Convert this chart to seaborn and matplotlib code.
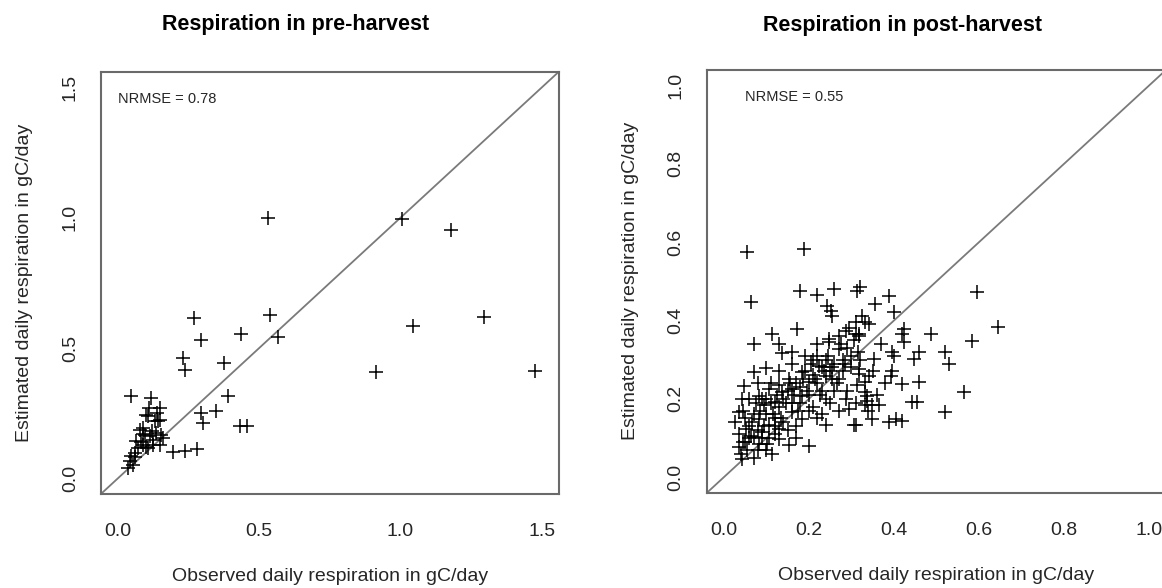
import numpy as np
import pandas as pd
import matplotlib
matplotlib.use('Agg')
import matplotlib.pyplot as plt
import seaborn as sns

# Pre-harvest: observed vs estimated (gC/day)
pre_obs = [0.53, 1.005, 1.18, 1.045, 1.295, 0.913, 1.475, 0.27, 0.537, 0.435,
           0.567, 0.293, 0.231, 0.236, 0.375, 0.047, 0.118, 0.15, 0.39, 0.295,
           0.348, 0.30, 0.431, 0.455, 0.195, 0.236, 0.28, 0.106, 0.148, 0.077,
           0.095, 0.112, 0.136, 0.154, 0.16, 0.124, 0.107, 0.089, 0.071, 0.059,
           0.047, 0.041, 0.035, 0.053, 0.142, 0.089, 0.125, 0.065, 0.148, 0.10,
           0.06, 0.08, 0.10, 0.12, 0.13, 0.11, 0.14, 0.09]
pre_est = [1.00, 0.996, 0.953, 0.585, 0.62, 0.406, 0.41, 0.614, 0.627, 0.553,
           0.544, 0.529, 0.461, 0.416, 0.444, 0.314, 0.308, 0.27, 0.314, 0.25,
           0.257, 0.212, 0.199, 0.199, 0.10, 0.106, 0.112, 0.238, 0.225, 0.186,
           0.167, 0.161, 0.174, 0.167, 0.154, 0.129, 0.116, 0.129, 0.116, 0.097,
           0.084, 0.065, 0.039, 0.052, 0.218, 0.193, 0.148, 0.142, 0.129, 0.244,
           0.08, 0.14, 0.12, 0.18, 0.22, 0.27, 0.25, 0.17]

# Post-harvest: observed vs estimated (gC/day)
post_obs = [0.055, 0.188, 0.063, 0.18, 0.22, 0.259, 0.314, 0.321, 0.355, 0.388,
            0.243, 0.251, 0.255, 0.112, 0.172, 0.071, 0.325, 0.31, 0.341, 0.286,
            0.318, 0.247,
            0.596, 0.645, 0.584, 0.488, 0.52, 0.529, 0.565, 0.521, 0.459, 0.447,
            0.459, 0.443, 0.455, 0.42, 0.424, 0.42, 0.424, 0.40, 0.396, 0.40,
            0.353, 0.396, 0.392, 0.318, 0.341, 0.333, 0.337, 0.349, 0.365, 0.388,
            0.42, 0.404, 0.349, 0.31, 0.314, 0.31, 0.333,
            0.136, 0.071, 0.10, 0.047, 0.043, 0.082, 0.094, 0.027, 0.035, 0.051,
            0.063, 0.082, 0.102, 0.114, 0.043, 0.035, 0.071, 0.129, 0.153, 0.20,
            0.161, 0.184, 0.137, 0.161, 0.121, 0.184, 0.20, 0.224, 0.22, 0.239,
            0.255, 0.247, 0.271, 0.286, 0.294, 0.306, 0.239, 0.231, 0.184, 0.153,
            0.129, 0.106, 0.082, 0.106, 0.129, 0.09, 0.318, 0.318, 0.333, 0.337,
            0.333,
            0.04, 0.05, 0.06, 0.07, 0.08, 0.09, 0.10, 0.11, 0.12, 0.13,
            0.14, 0.15, 0.16, 0.17, 0.18, 0.19, 0.20, 0.21, 0.22, 0.23,
            0.24, 0.25, 0.26, 0.27, 0.28, 0.29, 0.30, 0.26, 0.21, 0.17,
            0.12, 0.08, 0.06, 0.05, 0.09, 0.11, 0.13, 0.16, 0.19, 0.22,
            0.27, 0.30, 0.24, 0.14, 0.10, 0.07, 0.18, 0.23, 0.28, 0.32,
            0.035, 0.045, 0.055, 0.065, 0.075, 0.085, 0.095, 0.105, 0.115, 0.125,
            0.135, 0.145, 0.155, 0.165, 0.175, 0.185, 0.195, 0.205, 0.215, 0.225,
            0.235, 0.245, 0.255, 0.265, 0.275, 0.285, 0.295, 0.305, 0.315, 0.20,
            0.22, 0.25, 0.27, 0.29, 0.31, 0.34, 0.36, 0.38, 0.35, 0.37,
            0.06, 0.08, 0.10, 0.12, 0.15, 0.17, 0.045, 0.13, 0.16, 0.21]
post_est = [0.574, 0.582, 0.446, 0.476, 0.465, 0.48, 0.476, 0.485, 0.442, 0.462,
            0.436, 0.425, 0.412, 0.366, 0.378, 0.34, 0.412, 0.395, 0.391, 0.374,
            0.366, 0.353,
            0.473, 0.383, 0.348, 0.366, 0.319, 0.289, 0.217, 0.166, 0.319, 0.302,
            0.242, 0.191, 0.191, 0.238, 0.378, 0.366, 0.344, 0.421, 0.319, 0.31,
            0.302, 0.272, 0.259, 0.264, 0.259, 0.217, 0.195, 0.183, 0.183, 0.14,
            0.144, 0.148, 0.148, 0.132, 0.234, 0.366, 0.395,
            0.317, 0.269, 0.278, 0.232, 0.20, 0.208, 0.183, 0.14, 0.166, 0.123,
            0.106, 0.085, 0.085, 0.059, 0.047, 0.077, 0.102, 0.123, 0.081, 0.079,
            0.166, 0.149, 0.217, 0.225, 0.191, 0.208, 0.242, 0.285, 0.31, 0.259,
            0.251, 0.344, 0.327, 0.20, 0.174, 0.132, 0.132, 0.161, 0.268, 0.251,
            0.234, 0.225, 0.149, 0.132, 0.098, 0.115, 0.276, 0.361, 0.242, 0.208,
            0.183,
            0.06, 0.09, 0.13, 0.16, 0.12, 0.10, 0.16, 0.19, 0.15, 0.18,
            0.20, 0.22, 0.19, 0.24, 0.23, 0.27, 0.21, 0.26, 0.24, 0.28,
            0.30, 0.27, 0.29, 0.25, 0.30, 0.33, 0.28, 0.22, 0.18, 0.13,
            0.11, 0.07, 0.10, 0.15, 0.20, 0.24, 0.27, 0.29, 0.31, 0.34,
            0.36, 0.31, 0.20, 0.14, 0.07, 0.05, 0.19, 0.22, 0.27, 0.30,
            0.11, 0.09, 0.07, 0.14, 0.19, 0.17, 0.13, 0.10, 0.16, 0.21,
            0.15, 0.19, 0.24, 0.21, 0.17, 0.25, 0.22, 0.29, 0.25, 0.21,
            0.27, 0.31, 0.28, 0.24, 0.34, 0.29, 0.38, 0.35, 0.32, 0.17,
            0.15, 0.19, 0.17, 0.22, 0.19, 0.17, 0.21, 0.24, 0.27, 0.34,
            0.20, 0.24, 0.20, 0.13, 0.12, 0.10, 0.17, 0.34, 0.32, 0.30]

titles = ['Respiration in pre-harvest', 'Respiration in post-harvest']
nrmse = ['NRMSE = 0.78', 'NRMSE = 0.55']
x_label = 'Observed daily respiration in gC/day'
y_label = 'Estimated daily respiration in gC/day'
pre_ticks = [0.0, 0.5, 1.0, 1.5]
post_ticks = [0.0, 0.2, 0.4, 0.6, 0.8, 1.0]

sns.set_style('white')
plt.rcParams['font.family'] = ['Liberation Sans', 'DejaVu Sans']

fig = plt.figure(figsize=(11.62, 5.88), dpi=100)
ax1 = fig.add_axes([0.0869, 0.160, 0.394, 0.718])
ax2 = fig.add_axes([0.6084, 0.162, 0.395, 0.719])

panels = [
    (ax1, pd.DataFrame({'obs': pre_obs, 'est': pre_est}), pre_ticks, (-0.06, 1.56), 0.0, 1.455, 1.10),
    (ax2, pd.DataFrame({'obs': post_obs, 'est': post_est}), post_ticks, (-0.04, 1.04), 0.05, 0.97, 1.093),
]

edge = '#6a6a6a'
txt = '#262626'
for i, (ax, df, ticks, lim, tx, ty, title_y) in enumerate(panels):
    ax.axline((0, 0), slope=1, color='#7a7a7a', lw=1.3, zorder=1)
    sns.scatterplot(data=df, x='obs', y='est', ax=ax, marker='+', s=110,
                    color='black', linewidth=1.1, zorder=2, legend=False)
    ax.set_xlim(lim)
    ax.set_ylim(lim)
    ax.set_xticks(ticks)
    ax.set_yticks(ticks)
    ax.set_xticklabels([f'{t:.1f}' for t in ticks])
    ax.set_yticklabels([f'{t:.1f}' for t in ticks], rotation=90, va='center')
    ax.tick_params(axis='both', direction='out', length=7, width=1.3, color=edge,
                   labelsize=14, labelcolor=txt)
    ax.tick_params(axis='x', pad=14)
    ax.tick_params(axis='y', pad=9)
    for sp in ax.spines.values():
        sp.set_visible(True)
        sp.set_color(edge)
        sp.set_linewidth(1.5)
    ax.set_xlabel(x_label, fontsize=14, color=txt)
    ax.set_ylabel(y_label, fontsize=14, color=txt)
    ax.xaxis.set_label_coords(0.5, -0.175)
    ax.yaxis.set_label_coords(-0.148, 0.5)
    ax.set_title(titles[i], fontsize=15.5, fontweight='bold', color='black',
                 x=0.425, y=title_y, pad=0)
    ax.text(tx, ty, nrmse[i], fontsize=10.5, color=txt, ha='left', va='center')

fig.savefig('out.png', dpi=100)
